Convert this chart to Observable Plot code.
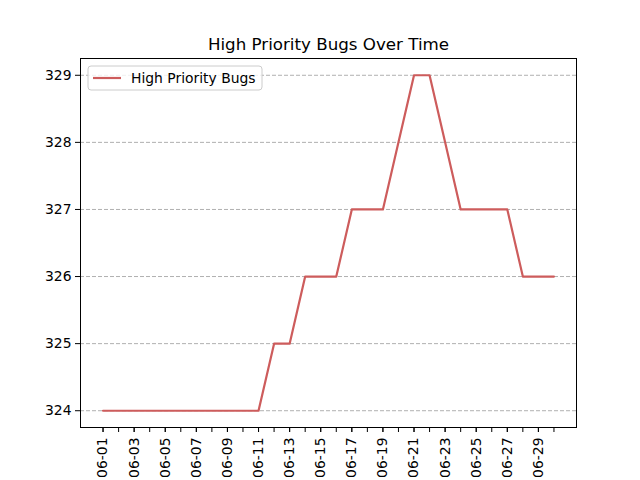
<!DOCTYPE html>
<html><head><meta charset="utf-8">
<script src="https://cdn.jsdelivr.net/npm/d3@7"></script>
<script src="https://cdn.jsdelivr.net/npm/@observablehq/plot@0.6"></script>
<style>body{margin:0;background:#fff} svg{font-family:"DejaVu Sans",sans-serif}</style>
</head><body><div id="chart"></div>
<script>
const title = "High Priority Bugs Over Time";
const seriesName = "High Priority Bugs";
const days = ["06-01","06-02","06-03","06-04","06-05","06-06","06-07","06-08","06-09","06-10",
  "06-11","06-12","06-13","06-14","06-15","06-16","06-17","06-18","06-19","06-20",
  "06-21","06-22","06-23","06-24","06-25","06-26","06-27","06-28","06-29","06-30"];
const bugs = [324,324,324,324,324,324,324,324,324,324,
  324,325,325,326,326,326,327,327,327,328,
  329,329,328,327,327,327,327,326,326,326];
const yTicks = [324,325,326,327,328,329];
const labeledDays = days.filter((d, i) => i % 2 === 0);

const parse = d3.utcParse("%m-%d");
const fmt = d3.utcFormat("%m-%d");
const data = days.map((d, i) => ({date: parse(d), value: bugs[i]}));
const x0 = data[0].date, x1 = data[data.length - 1].date;
const xpad = (x1 - x0) * 0.05;
const ymin = d3.min(bugs), ymax = d3.max(bugs);
const ypad = (ymax - ymin) * 0.05;

const W = 640, H = 480, ML = 80, MR = 64, MT = 58, MB = 53;
const plot = Plot.plot({
  width: W, height: H,
  marginLeft: ML, marginRight: MR, marginTop: MT, marginBottom: MB,
  style: {fontFamily: "DejaVu Sans", fontSize: "13.9px", color: "black", background: "white"},
  x: {type: "utc", domain: [new Date(+x0 - xpad), new Date(+x1 + xpad)]},
  y: {domain: [ymin - ypad, ymax + ypad]},
  marks: [
    Plot.gridY(yTicks, {stroke: "#b0b0b0", strokeOpacity: 1, strokeWidth: 1, strokeDasharray: "4,2"}),
    Plot.line(data, {x: "date", y: "value", stroke: "#cd5c5c", strokeWidth: 2.2}),
    Plot.axisX(days.map(parse), {tickSize: 5, tickFormat: () => "", label: null, stroke: "black"}),
    Plot.axisX(labeledDays.map(parse), {tickSize: 5, tickPadding: 5, tickRotate: -90, tickFormat: fmt, label: null, fontSize: 13.9}),
    Plot.axisY(yTicks, {tickSize: 5, tickPadding: 4, tickFormat: d3.format("d"), label: null, fontSize: 13.9}),
    Plot.frame({stroke: "black", strokeWidth: 1}),
    Plot.text([title], {frameAnchor: "top", dy: -20, fontSize: 16.7, fill: "black"})
  ]
});
document.getElementById("chart").appendChild(plot);

// legend (inside the axes, upper left)
const svg = d3.select(plot);
const lg = svg.append("g").attr("transform", `translate(${ML + 8},${MT + 8})`);
lg.append("rect").attr("x", 0).attr("y", 0).attr("width", 174).attr("height", 24)
  .attr("rx", 3).attr("fill", "white").attr("fill-opacity", 0.8).attr("stroke", "#cccccc");
lg.append("line").attr("x1", 5).attr("x2", 33).attr("y1", 12).attr("y2", 12)
  .attr("stroke", "#cd5c5c").attr("stroke-width", 2.2);
lg.append("text").attr("x", 43).attr("y", 12).attr("dy", "0.35em")
  .attr("text-anchor", "start")
  .attr("font-size", 13.9).attr("fill", "black").text(seriesName);
</script></body></html>
